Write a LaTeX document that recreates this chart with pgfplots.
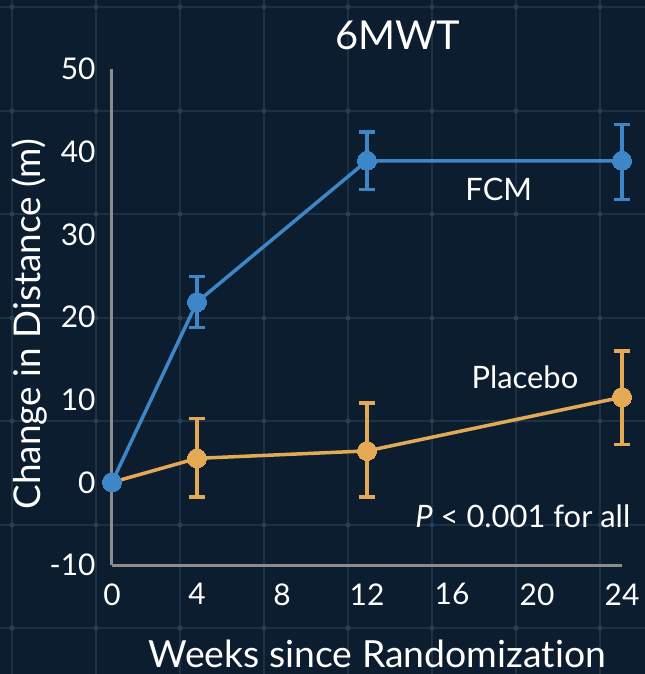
\documentclass[border=0pt]{standalone}
\usepackage{fontspec}
\setmainfont{Lato}[Ligatures={NoCommon}]
\usepackage{pgfplots}
\usepackage{pgfplotstable}
\pgfplotsset{compat=1.18}
\definecolor{bg}{HTML}{0B1D2E}
\definecolor{gridc}{HTML}{1C3244}
\definecolor{gridd}{HTML}{27404F}
\definecolor{axgray}{HTML}{8C8C8C}
\definecolor{fcmblue}{HTML}{3D87C9}
\definecolor{placorange}{HTML}{E3A954}

\pgfplotstableread{
x y ep em
0 0 0 0
4 21.8 3.1 3.1
12 38.9 3.5 3.5
24 38.9 4.4 4.7
}\fcm
\pgfplotstableread{
x y ep em
0 0 0 0
4 2.9 4.8 4.7
12 3.8 5.8 5.6
24 10.3 5.6 5.7
}\placebo

\begin{document}
\begin{tikzpicture}
\fill[bg] (-112bp,-109bp) rectangle (533bp,565bp);
\useasboundingbox (-112bp,-109bp) rectangle (533bp,565bp);
\foreach \x in {-100,-16,68,152,236,320,404,488} \draw[gridc, line width=1.2bp] (\x bp,-109bp) -- (\x bp,565bp);
\foreach \y in {558,454,351,247,144,40,-63} \draw[gridc, line width=1.2bp] (-112bp,\y bp) -- (533bp,\y bp);
\foreach \x in {-100,-16,68,152,236,320,404,488}
  \foreach \y in {558,454,351,247,144,40,-63}
    \fill[gridd] (\x bp,\y bp) circle (2.5bp);
\begin{axis}[
  at={(0,0)}, anchor=south west,
  scale only axis, width=510bp, height=496bp,
  xmin=0, xmax=24, ymin=-10, ymax=50,
  enlargelimits=false, clip=false,
  axis lines*=left,
  axis line style={-, draw=axgray, line width=3bp},
  xtick={0,4,...,24}, ytick={-10,0,...,50},
  major tick length=0pt,
  /pgf/number format/assume math mode=true,
  tick label style={font=\fontsize{30}{32}\selectfont, text=white},
  xticklabel style={yshift=-15bp},
  yticklabel style={xshift=-13bp},
  every axis plot/.append style={line width=3.5bp},
  error bars/y dir=both, error bars/y explicit,
]
\addplot[placorange, mark=*, mark size=9.5bp, mark options={fill=placorange, draw=placorange, line width=0pt},
  error bars/error bar style={line width=3.5bp, placorange},
  error bars/error mark options={rotate=90, line width=3.5bp, mark size=8bp, placorange}]
  table[x=x, y=y, y error plus=ep, y error minus=em] {\placebo};
\addplot[fcmblue, mark=*, mark size=9.5bp, mark options={fill=fcmblue, draw=fcmblue, line width=0pt},
  error bars/error bar style={line width=3.5bp, fcmblue},
  error bars/error mark options={rotate=90, line width=3.5bp, mark size=8bp, fcmblue}]
  table[x=x, y=y, y error plus=ep, y error minus=em] {\fcm};
\node[text=white, font=\fontsize{31}{33}\selectfont] at (axis cs:18.2,35.4) {FCM};
\node[text=white, font=\fontsize{31}{33}\selectfont] at (axis cs:19.43,12.7) {Placebo};
\node[text=white, anchor=east, inner sep=0pt, font=\fontsize{31}{33}\selectfont] at (axis cs:24.4,-4.1) {\textit{P} < 0.001 for all};
\node[text=white, font=\fontsize{40}{42}\selectfont, yshift=34bp] at (axis cs:13.46,50) {6MWT};
\node[text=white, anchor=base, inner sep=0pt, font=\fontsize{37.5}{40}\selectfont, yshift=-102bp] at (rel axis cs:0.52,0) {Weeks since Randomization};
\node[text=white, font=\fontsize{37}{40}\selectfont, xshift=-82bp, rotate=90] at (rel axis cs:0,0.486) {Change in Distance (m)};
\end{axis}
\end{tikzpicture}
\end{document}
